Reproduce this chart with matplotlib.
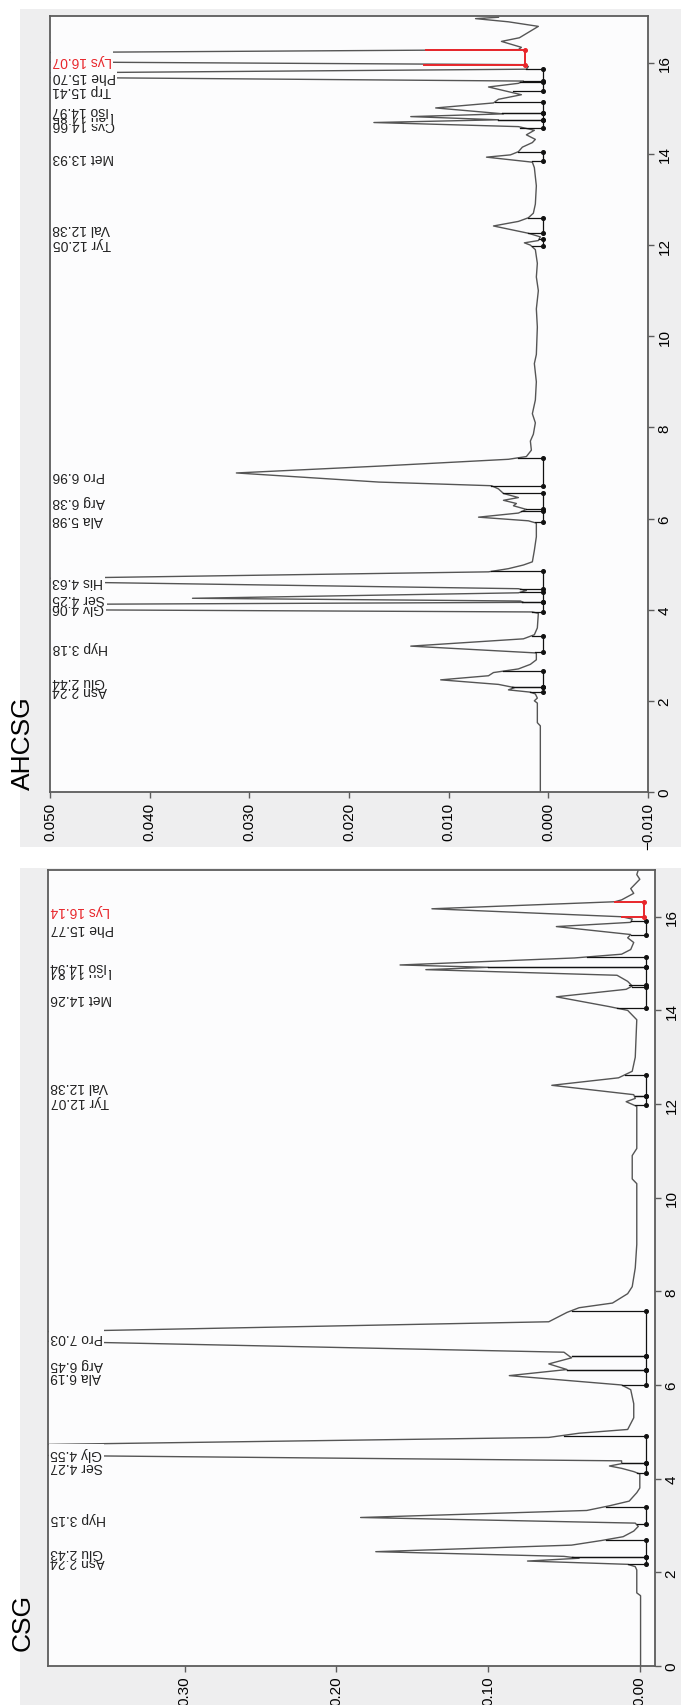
import matplotlib
matplotlib.use('Agg')
import matplotlib.pyplot as plt
import matplotlib.transforms as mtransforms
from matplotlib.patches import Rectangle

plt.rcParams['font.family'] = ['Liberation Sans', 'DejaVu Sans']

# ---- AHCSG chromatogram (time in min, signal) ----
ahcsg_t = [0.00, 1.45, 1.52, 1.95, 2.00, 2.06, 2.15, 2.19, 2.24, 2.29, 2.36, 2.46, 2.55, 2.62,
           2.70, 2.80, 2.90, 3.05, 3.20, 3.36, 3.45, 3.60, 3.92, 3.95, 4.06, 4.16, 4.19, 4.25,
           4.37, 4.42, 4.46, 4.65, 4.83, 4.90, 4.98, 5.05, 5.30, 5.60, 5.90, 5.95, 6.03, 6.12,
           6.20, 6.28, 6.33, 6.40, 6.46, 6.55, 6.65, 6.72, 6.80, 7.00, 7.15, 7.30, 7.36, 7.50,
           7.70, 7.85, 8.10, 8.30, 8.60, 9.00, 9.40, 9.60, 10.20, 10.60, 11.00, 11.30, 11.60,
           11.90, 12.00, 12.05, 12.10, 12.18, 12.26, 12.42, 12.52, 12.60, 12.70, 12.90, 13.30,
           13.70, 13.82, 13.93, 13.98, 14.05, 14.15, 14.25, 14.32, 14.42, 14.52, 14.60, 14.69,
           14.75, 14.82, 14.88, 15.01, 15.12, 15.20, 15.30, 15.47, 15.55, 15.60, 15.73, 15.86,
           15.92, 15.96, 16.12, 16.29, 16.34, 16.47, 16.55, 16.80, 16.90, 16.97, 17.00]
ahcsg_v = [0.0008, 0.0008, 0.0011, 0.0011, 0.0014, 0.0011, 0.0013, 0.0018, 0.0040, 0.0034,
           0.0050, 0.0108, 0.0060, 0.0055, 0.0030, 0.0018, 0.0012, 0.0012, 0.0138, 0.0025,
           0.0014, 0.0011, 0.0010, 0.0016, 0.1100, 0.0025, 0.0028, 0.0357, 0.0030, 0.0022,
           0.0030, 0.0620, 0.0060, 0.0040, 0.0025, 0.0016, 0.0014, 0.0012, 0.0012, 0.0020,
           0.0070, 0.0030, 0.0022, 0.0035, 0.0032, 0.0045, 0.0030, 0.0045, 0.0050, 0.0057,
           0.0170, 0.0313, 0.0170, 0.0040, 0.0022, 0.0017, 0.0018, 0.0015, 0.0013, 0.0016,
           0.0013, 0.0012, 0.0014, 0.0012, 0.0011, 0.0012, 0.0010, 0.0012, 0.0011, 0.0013,
           0.0018, 0.0024, 0.0010, 0.0008, 0.0020, 0.0055, 0.0030, 0.0020, 0.0015, 0.0013,
           0.0012, 0.0014, 0.0016, 0.0062, 0.0038, 0.0030, 0.0026, 0.0016, 0.0013, 0.0022,
           0.0014, 0.0030, 0.0175, 0.0050, 0.0138, 0.0045, 0.0113, 0.0055, 0.0050, 0.0027,
           0.0060, 0.0030, 0.0025, 0.0790, 0.0022, 0.0020, 0.0025, 0.1300, 0.0030, 0.0027,
           0.0047, 0.0029, 0.0010, 0.0040, 0.0073, 0.0050]

ahcsg_names = ['Asn', 'Glu', 'Hyp', 'Gly', 'Ser', 'His', 'Ala', 'Arg', 'Pro', 'Tyr', 'Val',
               'Met', 'Cys', 'Leu', 'Iso', 'Trp', 'Phe', 'Lys']
ahcsg_rt = [2.24, 2.44, 3.18, 4.06, 4.25, 4.63, 5.98, 6.38, 6.96, 12.05, 12.38,
            13.93, 14.66, 14.85, 14.97, 15.41, 15.70, 16.07]
# integration marks per peak: start, value at start, end, value at end, baseline
ahcsg_ps = [2.19, 2.30, 3.07, 3.95, 4.17, 4.45, 5.92, 6.20, 6.72, 11.98, 12.26,
            13.85, 14.58, 14.75, 14.89, 15.38, 15.60, 15.96]
ahcsg_psv = [0.0018, 0.0036, 0.0013, 0.0016, 0.0026, 0.0028, 0.0013, 0.0022, 0.0057, 0.0016,
             0.0020, 0.0016, 0.0028, 0.0050, 0.0046, 0.0035, 0.0025, 0.0125]
ahcsg_pe = [2.30, 2.65, 3.42, 4.17, 4.38, 4.84, 6.16, 6.55, 7.33, 12.14, 12.60,
            14.05, 14.75, 14.89, 15.15, 15.57, 15.86, 16.29]
ahcsg_pev = [0.0036, 0.0045, 0.0016, 0.0026, 0.0028, 0.0058, 0.0027, 0.0045, 0.0030, 0.0009,
             0.0020, 0.0030, 0.0050, 0.0046, 0.0053, 0.0028, 0.0022, 0.0123]
ahcsg_base = [0.0005] * 17 + [0.0023]

# ---- CSG chromatogram ----
csg_t = [0.00, 1.50, 1.56, 2.05, 2.12, 2.17, 2.24, 2.30, 2.34, 2.44, 2.58, 2.68, 2.76, 2.88,
         2.98, 3.05, 3.17, 3.32, 3.42, 3.52, 3.70, 3.80, 4.10, 4.15, 4.22, 4.27, 4.32, 4.38,
         4.59, 4.88, 4.97, 5.05, 5.30, 5.60, 5.90, 6.00, 6.20, 6.33, 6.45, 6.58, 6.70, 7.04,
         7.35, 7.55, 7.65, 7.75, 7.95, 8.10, 8.50, 9.00, 10.30, 10.40, 10.90, 11.05, 11.95,
         12.05, 12.12, 12.20, 12.40, 12.56, 12.70, 13.00, 13.80, 14.00, 14.08, 14.29, 14.45,
         14.52, 14.62, 14.75, 14.87, 14.92, 14.97, 15.12, 15.20, 15.30, 15.45, 15.55, 15.62,
         15.79, 15.88, 15.95, 16.00, 16.17, 16.32, 16.36, 16.50, 16.60, 16.80, 16.90, 17.00]
csg_v = [-0.0005, -0.0005, 0.002, 0.002, 0.003, 0.008, 0.074, 0.040, 0.050, 0.174, 0.045,
         0.025, 0.011, 0.004, 0.001, 0.003, 0.184, 0.035, 0.020, 0.007, 0.002, 0.000, 0.000,
         0.004, 0.012, 0.020, 0.012, 0.012, 0.700, 0.060, 0.040, 0.008, 0.004, 0.004, 0.006,
         0.012, 0.086, 0.048, 0.060, 0.045, 0.050, 0.550, 0.060, 0.048, 0.040, 0.018, 0.008,
         0.005, 0.003, 0.002, 0.002, 0.005, 0.005, 0.002, 0.002, 0.009, 0.003, 0.004, 0.058,
         0.014, 0.005, 0.003, 0.002, 0.008, 0.020, 0.055, 0.009, 0.005, 0.008, 0.015, 0.141,
         0.100, 0.158, 0.043, 0.012, 0.006, 0.004, 0.008, 0.006, 0.055, 0.006, 0.005, 0.012,
         0.137, 0.0165, 0.012, 0.004, 0.006, 0.000, 0.002, 0.001]

csg_names = ['Asn', 'Glu', 'Hyp', 'Ser', 'Gly', 'Ala', 'Arg', 'Pro', 'Tyr', 'Val', 'Met',
             'Leu', 'Iso', 'Phe', 'Lys']
csg_rt = [2.24, 2.43, 3.15, 4.27, 4.55, 6.19, 6.45, 7.03, 12.07, 12.38, 14.26,
          14.84, 14.94, 15.77, 16.14]
csg_ps = [2.17, 2.32, 3.03, 4.13, 4.34, 6.00, 6.33, 6.62, 11.97, 12.17, 14.05,
          14.55, 14.92, 15.62, 16.00]
csg_psv = [0.008, 0.045, 0.002, 0.002, 0.012, 0.012, 0.048, 0.045, 0.003, 0.003, 0.015,
           0.007, 0.100, 0.006, 0.012]
csg_pe = [2.32, 2.70, 3.40, 4.34, 4.92, 6.33, 6.62, 7.58, 12.17, 12.62, 14.50,
          14.92, 15.14, 15.90, 16.32]
csg_pev = [0.045, 0.022, 0.022, 0.012, 0.050, 0.048, 0.045, 0.045, 0.003, 0.010, 0.005,
           0.100, 0.035, 0.006, 0.0165]
csg_base = [-0.004] * 14 + [-0.003]

ahcsg_xticks = [0.050, 0.040, 0.030, 0.020, 0.010, 0.000, -0.010]
ahcsg_xlabels = ['0.050', '0.040', '0.030', '0.020', '0.010', '0.000', '\u22120.010']
csg_xticks = [0.30, 0.20, 0.10, 0.00]
csg_xlabels = ['0.30', '0.20', '0.10', '0.00']
time_ticks = [0, 2, 4, 6, 8, 10, 12, 14, 16]

RED = '#e8262b'
AXBG = '#fcfcfd'
PANELBG = '#eeeeef'
EDGE = '#5c5c5c'

fig = plt.figure(figsize=(6.81, 17.06), dpi=100)
fig.patch.set_facecolor('white')
fig.patches.append(Rectangle((0.0294, 0.503), 0.9706, 0.4911, transform=fig.transFigure,
                             facecolor=PANELBG, edgecolor='none', zorder=-10))
fig.patches.append(Rectangle((0.0294, 0.0), 0.9706, 0.4906, transform=fig.transFigure,
                             facecolor=PANELBG, edgecolor='none', zorder=-10))


def draw_panel(ax, t, v, names, rt, ps, psv, pe, pev, base, xlim, ylim, xt, xl):
    ax.set_facecolor(AXBG)
    ax.plot(v, t, color='#555555', lw=1.0, zorder=2)
    for i in range(len(names)):
        c = RED if names[i] == 'Lys' else '#111111'
        lw = 1.4 if names[i] == 'Lys' else 0.9
        ax.plot([psv[i], base[i]], [ps[i], ps[i]], color=c, lw=lw, zorder=3)
        ax.plot([pev[i], base[i]], [pe[i], pe[i]], color=c, lw=lw, zorder=3)
        ax.plot([base[i], base[i]], [ps[i], pe[i]], color=c, lw=lw, zorder=3)
        ax.plot([base[i], base[i]], [ps[i], pe[i]], 'o', color=c, ms=2.6, zorder=4)
    trans = mtransforms.blended_transform_factory(ax.transAxes, ax.transData)
    for i in range(len(names)):
        c = RED if names[i] == 'Lys' else '#222222'
        ax.text(0.004, rt[i], '%s %.2f' % (names[i], rt[i]), transform=trans,
                rotation=180, ha='left', va='center', fontsize=10, color=c,
                bbox=dict(facecolor=AXBG, edgecolor='none', pad=1.0), zorder=10 + i)
    ax.set_xlim(xlim)
    ax.set_ylim(ylim)
    ax.set_xticks(xt)
    ax.set_xticklabels(xl, rotation=90, fontsize=11)
    ax.set_yticks(time_ticks)
    ax.set_yticklabels([str(k) for k in time_ticks], rotation=90, fontsize=11, va='center')
    ax.yaxis.tick_right()
    ax.tick_params(axis='both', length=4, width=1, color=EDGE, pad=3)
    for s in ax.spines.values():
        s.set_color(EDGE)
        s.set_linewidth(1.3)


ax1 = fig.add_axes([0.0734, 0.5352, 0.8781, 0.4549])
draw_panel(ax1, ahcsg_t, ahcsg_v, ahcsg_names, ahcsg_rt, ahcsg_ps, ahcsg_psv, ahcsg_pe,
           ahcsg_pev, ahcsg_base, (0.050, -0.010), (0, 17.03), ahcsg_xticks, ahcsg_xlabels)

ax2 = fig.add_axes([0.0705, 0.0229, 0.8913, 0.4666])
draw_panel(ax2, csg_t, csg_v, csg_names, csg_rt, csg_ps, csg_psv, csg_pe,
           csg_pev, csg_base, (0.39, -0.01), (0, 17.0), csg_xticks, csg_xlabels)

fig.text(0.034, 0.5645, 'AHCSG', rotation=90, fontsize=19, ha='center', va='center')
fig.text(0.033, 0.0487, 'CSG', rotation=90, fontsize=19, ha='center', va='center')

fig.savefig('out.png', dpi=100)
